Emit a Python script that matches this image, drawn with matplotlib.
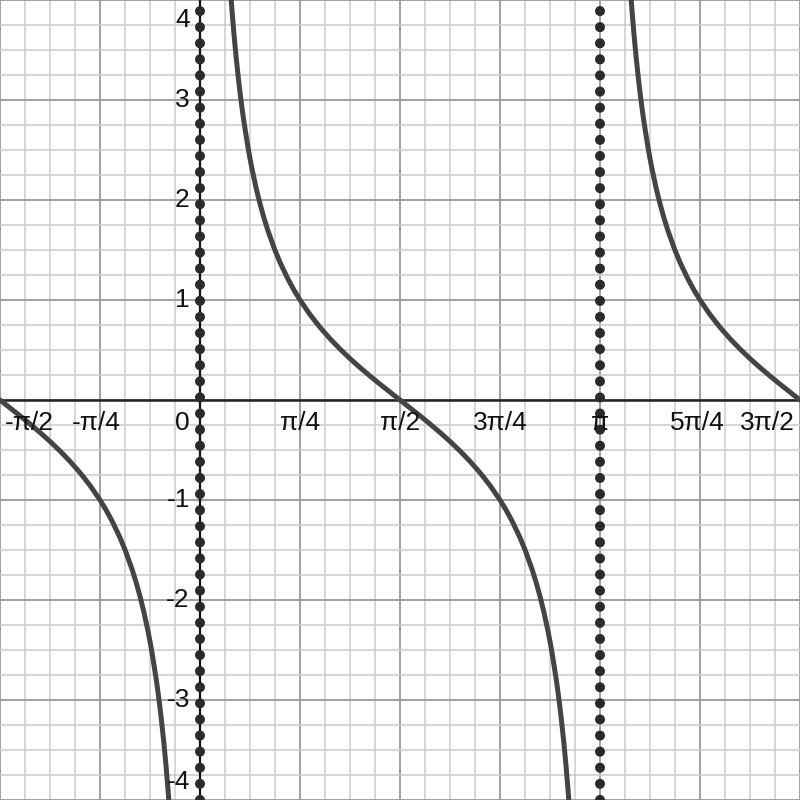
import numpy as np
import matplotlib.pyplot as plt

plt.rcParams['font.family'] = ['Liberation Sans', 'DejaVu Sans']

# curve values (x in units of pi), one branch between asymptotes each
half_x = [0.07, 0.075, 0.08, 0.085, 0.09, 0.095, 0.1, 0.105, 0.11, 0.12, 0.125, 0.13,
          0.14, 0.15, 0.16, 0.17, 0.1875, 0.2, 0.22, 0.235, 0.25, 0.275, 0.3, 0.325,
          0.35, 0.375, 0.4, 0.425, 0.45, 0.475, 0.5]
half_y = [4.474, 4.165, 3.894, 3.655, 3.442, 3.251, 3.078, 2.921, 2.778, 2.526, 2.414, 2.311,
          2.125, 1.963, 1.819, 1.691, 1.497, 1.376, 1.209, 1.099, 1.0, 0.854, 0.727, 0.613,
          0.51, 0.414, 0.325, 0.240, 0.158, 0.079, 0.0]

left_x = [-x for x in half_x][::-1]
left_y = [-y for y in half_y][::-1]
mid_x = half_x + [1 - x for x in half_x[::-1]][1:]
mid_y = half_y + [-y for y in half_y[::-1]][1:]
right_x = [1 + x for x in half_x]
right_y = half_y

asymptotes = [0, 1]  # in units of pi

xtick_pos = [-0.5, -0.25, 0, 0.25, 0.5, 0.75, 1, 1.25, 1.5]
xtick_labels = ['-π/2', '-π/4', '0', 'π/4', 'π/2', '3π/4', 'π', '5π/4', '3π/2']
ytick_pos = [-4, -3, -2, -1, 1, 2, 3, 4]
ytick_labels = ['-4', '-3', '-2', '-1', '1', '2', '3', '4']

fig = plt.figure(figsize=(8, 8), dpi=100)
ax = fig.add_axes([0, 0, 1, 1])
ax.set_xlim(-np.pi / 2, 3 * np.pi / 2)
ax.set_ylim(-4, 4)
ax.axis('off')

# grid: minor every pi/16 and 0.25, major every pi/4 and 1
for k in np.arange(-0.5, 1.5001, 1 / 16):
    major = abs(k * 4 - round(k * 4)) < 1e-6
    ax.axvline(k * np.pi, color='#999999' if major else '#cccccc',
               lw=1.3 if major else 1.1, zorder=1)
for v in np.arange(-4, 4.001, 0.25):
    major = abs(v - round(v)) < 1e-6
    ax.axhline(v, color='#999999' if major else '#cccccc',
               lw=1.3 if major else 1.1, zorder=1)

# axes
ax.axhline(0, color='#222222', lw=1.8, zorder=3)
ax.axvline(0, color='#111111', lw=1.6, zorder=3)

# asymptotes
for a in asymptotes:
    ax.axvline(a * np.pi, color='#2a2a2a', lw=7.2, linestyle=(0, (0.01, 1.6)),
               dash_capstyle='round', zorder=4)

# cot curve
for xs, ys in [(left_x, left_y), (mid_x, mid_y), (right_x, right_y)]:
    ax.plot(np.array(xs) * np.pi, ys, color='#444444', lw=3.6,
            solid_joinstyle='round', solid_capstyle='round', zorder=5)

# x labels
fs = 19
for p, lab in zip(xtick_pos, xtick_labels):
    ha, xp = 'center', p * np.pi
    if lab == '-π/2':
        ha, xp = 'left', p * np.pi + 0.04
    elif lab == '3π/2':
        ha, xp = 'right', p * np.pi - 0.04
    elif lab == '0':
        ha, xp = 'right', -0.08
    elif lab == '-π/4':
        xp = p * np.pi - 0.03
    elif lab == '5π/4':
        xp = p * np.pi - 0.02
    ax.text(xp, -0.23, lab, ha=ha, va='center', fontsize=fs, color='#111111', zorder=6)

# y labels
for v, lab in zip(ytick_pos, ytick_labels):
    yp = v
    if v == 4:
        yp = 3.8
    elif v == -4:
        yp = -3.82
    ax.text(-0.08, yp, lab, ha='right', va='center', fontsize=fs, color='#111111', zorder=6)

fig.savefig('out.png', dpi=100)
